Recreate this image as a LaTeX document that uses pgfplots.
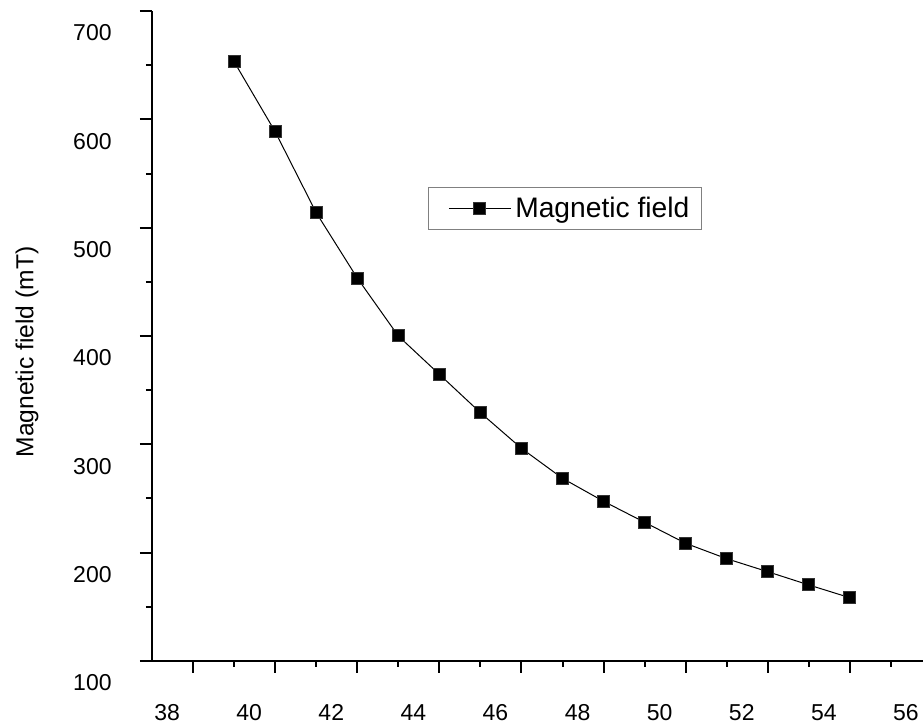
\documentclass[border=0pt]{standalone}
\usepackage{fontspec}
\setmainfont{Liberation Sans}
\usepackage{pgfplots}
\pgfplotsset{compat=1.18}

\begin{document}
\begin{tikzpicture}
\begin{axis}[
  at={(0pt,0pt)}, anchor=south west,
  scale only axis,
  width=390pt, height=325pt,
  xmin=37, xmax=56,
  ymin=100, ymax=700,
  axis x line*=bottom,
  axis y line*=left,
  axis line style={-, line width=1pt},
  xtick={38,40,...,56},
  ytick={100,200,...,700},
  minor x tick num=1,
  minor y tick num=1,
  tick align=outside,
  major tick length=6pt,
  minor tick length=3pt,
  every tick/.style={black, line width=1pt},
  /pgf/number format/assume math mode=true,
  tick label style={font=\fontsize{11.5}{13}\selectfont},
  xticklabel style={anchor=north, inner sep=0pt, yshift=-15.5pt, xshift=-13pt},
  yticklabel style={anchor=east, inner sep=0pt, xshift=-14pt, yshift=-11pt},
  ylabel={Magnetic field (mT)},
  ylabel style={at={(axis description cs:-0.1603,0.4754)}, anchor=center,
    font=\fontsize{12.3}{14}\selectfont},
  legend style={at={(axis description cs:0.3535,0.7288)}, anchor=north west,
    draw=gray, line width=0.6pt, font=\fontsize{14.1}{16}\selectfont,
    inner xsep=4pt, inner ysep=2.5pt},
  legend image code/.code={%
    \path (-6pt,0pt);
    \draw[mark repeat=2, mark phase=2, #1] plot coordinates {(0pt,0pt) (15.5pt,0pt) (31pt,0pt)};},
]
\addplot[black, line width=0.5pt, mark=square*, mark size=3pt,
  mark options={fill=black, draw=black!80}] coordinates {
(39, 653.2)
(40, 588.6)
(41, 513.8)
(42, 453.5)
(43, 400.0)
(44, 364.6)
(45, 329.2)
(46, 296.3)
(47, 268.6)
(48, 247.4)
(49, 228.0)
(50, 208.6)
(51, 194.4)
(52, 182.4)
(53, 170.2)
(54, 158.4)
};
\addlegendentry{Magnetic field}
\end{axis}
\pgfresetboundingbox
\path[use as bounding box] (-76pt,-33.5pt) rectangle (385.5pt,330.5pt);
\end{tikzpicture}
\end{document}
